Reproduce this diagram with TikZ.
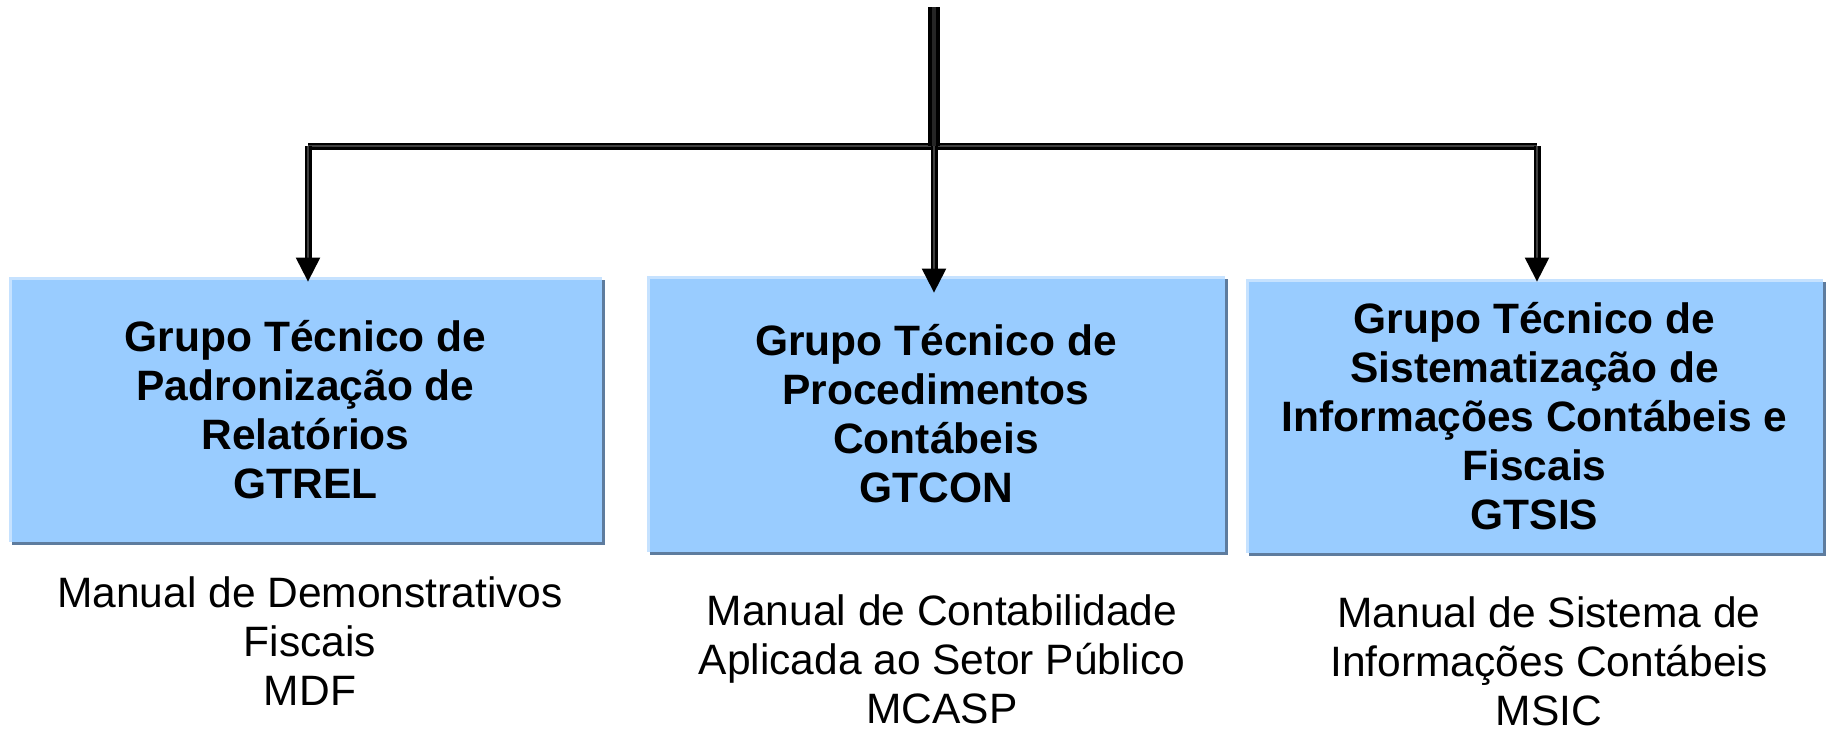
\documentclass[tikz,border=0pt]{standalone}
\usepackage{fontspec}
\setmainfont{Liberation Sans}
\usetikzlibrary{arrows.meta,shadows,calc}
\definecolor{boxfill}{HTML}{99CCFF}
\definecolor{boxedge}{HTML}{C6E2FF}
\definecolor{boxshadow}{HTML}{5E7C9E}
\tikzset{
  box/.style={rectangle, inner sep=0pt, fill=boxedge, align=center,
    font=\fontsize{21.25pt}{24.5pt}\selectfont\bfseries,
    drop shadow={shadow xshift=1.5pt, shadow yshift=-1.5pt, fill=boxshadow, opacity=1},
    path picture={\fill[boxfill] ([xshift=1.5pt,yshift=-1.5pt]path picture bounding box.north west) rectangle (path picture bounding box.south east);}},
  manual/.style={inner sep=0pt, align=center, font=\fontsize{21.25pt}{24.5pt}\selectfont},
  conn/.style={draw=black, line width=1.1pt, double=black!75, double distance=1.3pt},
  trunk/.style={draw=black, line width=1.6pt, double=black!85, double distance=2.4pt},
  tip/.style={-{Triangle[width=12pt,length=12pt]}}
}
\begin{document}
\begin{tikzpicture}[x=0.5pt,y=-0.5pt]
\useasboundingbox (0,0) rectangle (1829,734);
% boxes
\node[box, minimum width=296.5pt, minimum height=132.5pt] (b1) at (305.5,409.5)
  {Grupo Técnico de\\Padronização de\\Relatórios\\GTREL};
\node[box, minimum width=289pt, minimum height=138pt] (b2) at (936,414)
  {Grupo Técnico de\\Procedimentos\\Contábeis\\GTCON};
\node[box, minimum width=288.5pt, minimum height=137pt] (b3) at (1534.5,416)
  {Grupo Técnico de\\Sistematização de\\Informações Contábeis e\\Fiscais\\GTSIS};
% manuals
\node[manual] (m1) at (310,641) {Manual de Demonstrativos\\Fiscais\\MDF};
\node[manual] (m2) at (942,659) {Manual de Contabilidade\\Aplicada ao Setor Público\\MCASP};
\node[manual] (m3) at (1549,661) {Manual de Sistema de\\Informações Contábeis\\MSIC};
% connectors
\coordinate (top) at (934,7);
\coordinate (jm) at (934,146);
\coordinate (jl) at (308,146);
\coordinate (jr) at (1537,146);
\coordinate (e1) at ($(b1.north)+(0,-2.5pt)$);
\coordinate (e2) at ($(b2.north)+(0,-8.5pt)$);
\coordinate (e3) at ($(b3.north)+(0,-1.5pt)$);
\draw[conn] (jl) -- (jr);
\draw[conn, tip] (jl) -- (jl |- e1);
\draw[conn, tip] (jr) -- (jr |- e3);
\draw[conn, tip] (jm) -- (jm |- e2);
\draw[trunk] (top) -- (jm);
\end{tikzpicture}
\end{document}
